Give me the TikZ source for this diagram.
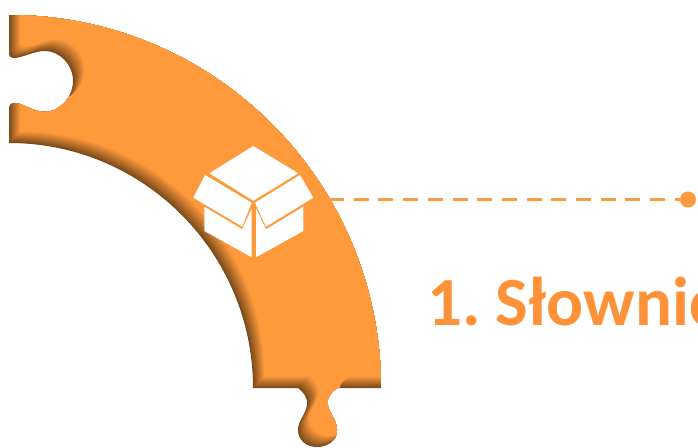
\documentclass[tikz,border=0pt]{standalone}
\usepackage{fontspec}
\newfontfamily\labelfont[WordSpace=0.65]{Carlito}
\definecolor{pieceorange}{HTML}{FF9A3C}
\definecolor{pieceshade}{HTML}{7A4A1A}
\definecolor{textorange}{HTML}{FF9238}
% Outline of the puzzle piece
\def\piecepath{(9,15) .. controls (214.5,15) and (381,182) .. (381,388) -- (337,388)
  .. controls (331,392) and (326,397) .. (328,406) .. controls (330,415) and (337,421) .. (337,430)
  .. controls (337,440) and (328,447) .. (317,447) .. controls (306,447) and (298,440) .. (298,430)
  .. controls (298,421) and (306,414) .. (307,405) .. controls (308,397) and (303,392) .. (298,388)
  -- (253,388) .. controls (253,253) and (144,143) .. (9,143) -- (9,108)
  .. controls (9,103) and (14,102) .. (20,104) .. controls (28,107) and (36,112) .. (45,112)
  .. controls (60,112) and (73,97) .. (73,81) .. controls (73,65) and (60,51) .. (45,51)
  .. controls (36,51) and (28,55) .. (20,57) .. controls (14,59) and (9,58) .. (9,54) -- cycle}
\tikzset{
  boxpart/.style={fill=white, draw=none},
  linkline/.style={draw=pieceorange, line width=2.6pt, dash pattern=on 15pt off 9.7pt},
  linkdot/.style={circle, fill=pieceorange, inner sep=0pt, minimum size=16pt},
  titlelabel/.style={anchor=base west, inner sep=0pt, text=textorange, font=\labelfont\bfseries\fontsize{69}{80}\selectfont}
}
\begin{document}
\begin{tikzpicture}[x=1pt, y=-1pt]
\useasboundingbox (0,0) rectangle (698,447);
% Piece with its inner shadow
\begin{scope}
\clip \piecepath;
\fill[pieceshade] (0,0) rectangle (400,447);
\foreach \s in {0.5,1,...,11.5} {
  \pgfmathsetmacro{\p}{100*(\s/11.5)}
  \fill[pieceorange!\p!pieceshade, shift={(\s,-\s)}] \piecepath;
}
\end{scope}
% Box icon
\fill[boxpart] (253.3,146) -- (298.3,173.3) -- (253.3,200.7) -- (209.3,173.3) -- cycle;
\fill[boxpart] (205,175) -- (251.7,202.7) -- (242.3,226.7) -- (193.3,197.7) -- cycle;
\fill[boxpart] (300,175) -- (313.3,197.7) -- (266,226.7) -- (255,202.7) -- cycle;
\fill[boxpart] (204.3,206.7) -- (242.3,229.3) -- (251.7,208.3) -- (251.7,257.3) -- (204.3,231) -- cycle;
\fill[boxpart] (303.3,206.7) -- (266,229.3) -- (256,208.3) -- (256,257.3) -- (303.3,231) -- cycle;
% Link and title
\coordinate (linkstart) at (329,199.5);
\node[linkdot] (linkend) at (688,199.5) {};
\draw[linkline] (linkstart) -- (linkend);
\node[titlelabel] (title) at (427,325) {1. Słownic};
\end{tikzpicture}
\end{document}
